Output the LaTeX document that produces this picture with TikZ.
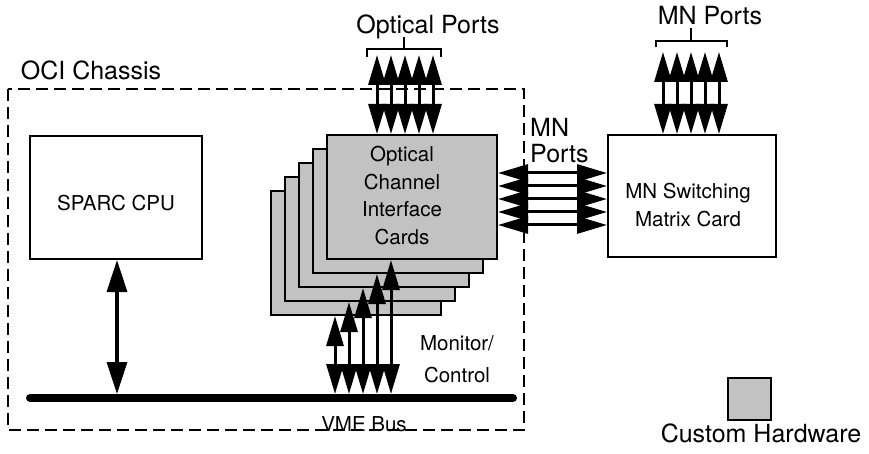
\documentclass[tikz,border=0pt]{standalone}
\usepackage{fontspec}
\setmainfont{TeX Gyre Heros}
\usetikzlibrary{arrows.meta}
\definecolor{cardgray}{gray}{0.76}
\tikzset{
  bigtxt/.style={font=\fontsize{25}{28}\selectfont, inner sep=0pt, anchor=base},
  smalltxt/.style={font=\fontsize{20.5}{24}\selectfont, inner sep=0pt, anchor=base},
  box/.style={draw, line width=2pt, rectangle, inner sep=0pt},
  card/.style={box, fill=cardgray, minimum width=170pt, minimum height=124pt},
  frame/.style={draw, line width=1.8pt, dash pattern=on 12pt off 6pt},
  dbl/.style={line width=3pt, {Triangle[length=30pt,width=17pt]}-{Triangle[length=30pt,width=17pt]}},
  cpuarrow/.style={line width=3.2pt, {Triangle[length=32pt,width=20pt]}-{Triangle[length=32pt,width=20pt]}},
  brace/.style={line width=1.6pt},
  bus/.style={line width=8pt, line cap=round}
}
\begin{document}
\begin{tikzpicture}[x=1pt,y=-1pt]
\useasboundingbox (0,0) rectangle (869,454);
% chassis frame
\draw[frame] (8,89) rectangle (524,430);
\node[bigtxt] (ocilbl) at (91,80) {OCI Chassis};
% SPARC CPU
\node[box, minimum width=172pt, minimum height=123pt] (cpu) at (116,197.5) {};
\node[smalltxt] (cputxt) at (116,211) {SPARC CPU};
% VME bus
\coordinate (busL) at (30,398);
\coordinate (busR) at (513,398);
\draw[bus] (busL) -- (busR);
\node[smalltxt] (vmetxt) at (364,431) {VME Bus};
\draw[cpuarrow] (cpu.south -| 117,0) -- (117,394);
% cards stack
\node[card] (c5) at (356,253) {};
\node[card] (c4) at (370,239) {};
\node[card] (c3) at (384,225) {};
\node[card] (c2) at (398,211) {};
\node[card] (c1) at (412,197) {};
\node[smalltxt] (ct1) at (402,162) {Optical};
\node[smalltxt] (ct2) at (402,189.5) {Channel};
\node[smalltxt] (ct3) at (402,217) {Interface};
\node[smalltxt] (ct4) at (402,244.5) {Cards};
% monitor/control arrows
\coordinate (m1) at (335,394);
\coordinate (m2) at (349,394);
\coordinate (m3) at (363,394);
\coordinate (m4) at (377,394);
\coordinate (m5) at (391,394);
\draw[dbl] (m1) -- (m1 |- c5.south);
\draw[dbl] (m2) -- (m2 |- c4.south);
\draw[dbl] (m3) -- (m3 |- c3.south);
\draw[dbl] (m4) -- (m4 |- c2.south);
\draw[dbl] (m5) -- (m5 |- c1.south);
\node[smalltxt] (mon1) at (457,350) {Monitor/};
\node[smalltxt] (mon2) at (457,382) {Control};
% optical ports
\foreach \i/\x in {1/377,2/391,3/405,4/419,5/433}{
  \coordinate (op\i) at (\x,55);
  \draw[dbl] (op\i) -- (op\i |- c1.north);
}
\coordinate (obL) at (367,57);
\coordinate (obR) at (441,57);
\coordinate (obC) at (404,37);
\draw[brace] (obL) -- (367,49) -- (441,49) -- (obR);
\draw[brace] (404,49) -- (obC);
\node[bigtxt] (optlbl) at (428,34) {Optical Ports};
% MN switching card
\node[box, minimum width=168pt, minimum height=122pt] (mn) at (692,196) {};
\node[smalltxt] (mnt1) at (688,199) {MN Switching};
\node[smalltxt] (mnt2) at (688,227) {Matrix Card};
% MN ports (horizontal)
\foreach \i/\y in {1/173,2/186,3/199,4/212,5/225}{
  \coordinate (hp\i) at (0,\y);
  \draw[dbl] (c1.east |- hp\i) -- (mn.west |- hp\i);
}
\node[bigtxt, anchor=base west] (mnp1) at (530,137) {MN};
\node[bigtxt, anchor=base west] (mnp2) at (530,163) {Ports};
% MN ports (top)
\foreach \i/\x in {1/663,2/677,3/691,4/705,5/719}{
  \coordinate (tp\i) at (\x,52);
  \draw[dbl] (tp\i) -- (tp\i |- mn.north);
}
\coordinate (tbL) at (656,47);
\coordinate (tbR) at (727,47);
\coordinate (tbC) at (691,28);
\draw[brace] (tbL) -- (656,41) -- (727,41) -- (tbR);
\draw[brace] (691,41) -- (tbC);
\node[bigtxt] (mnlbl) at (710,25) {MN Ports};
% legend
\node[box, fill=cardgray, minimum width=43pt, minimum height=42pt] (leg) at (749.5,399) {};
\node[bigtxt] (legtxt) at (761,442) {Custom Hardware};
\end{tikzpicture}
\end{document}
